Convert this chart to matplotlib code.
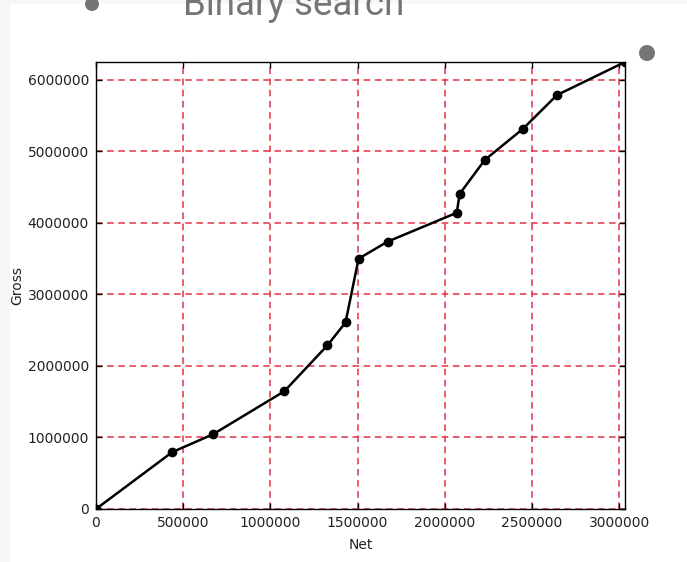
import matplotlib
matplotlib.use("Agg")
import matplotlib.pyplot as plt
from matplotlib.patches import Rectangle, Ellipse

net = [0, 437000, 672000, 1080000, 1327000, 1431000, 1506000, 1672000,
       2069000, 2086000, 2230000, 2448000, 2644000, 3034000]
gross = [0, 795000, 1046000, 1646000, 2287000, 2608000, 3500000, 3738000,
         4142000, 4407000, 4881000, 5314000, 5788000, 6250000]
xticks = [0, 500000, 1000000, 1500000, 2000000, 2500000, 3000000]
yticks = [0, 1000000, 2000000, 3000000, 4000000, 5000000, 6000000]
title_text = "Binary search"

W, H = 687, 562
fig = plt.figure(figsize=(W / 100, H / 100), dpi=100)
fig.patch.set_facecolor("white")

ax = fig.add_axes([96 / W, 1 - 509 / H, (625 - 96) / W, (509 - 62) / H])
ax.plot(net, gross, color="black", lw=1.8, marker="o", ms=6, zorder=3,
        clip_on=True)
ax.set_xlim(0, net[-1])
ax.set_ylim(0, gross[-1])
ax.set_xticks(xticks)
ax.set_yticks(yticks)
ax.set_xticklabels([str(v) for v in xticks])
ax.set_yticklabels([str(v) for v in yticks])
ax.grid(True, color="#e33344", lw=1.1, linestyle=(0, (4.3, 3.0)))
ax.tick_params(direction="in", top=True, right=True, length=4, width=1,
               labelsize=10, colors="black", labelcolor="#222222", pad=5)
for s in ax.spines.values():
    s.set_linewidth(1)
    s.set_color("black")
ax.set_xlabel("Net", fontsize=10, color="#222222", labelpad=6)
ax.set_ylabel("Gross", fontsize=10, color="#222222", labelpad=2.5)

# page decorations
strip_l = Rectangle((0, 0), 10 / W, 1, transform=fig.transFigure,
                    facecolor="#f7f7f7", edgecolor="none", zorder=10)
strip_t = Rectangle((0, 1 - 4 / H), 1, 4 / H, transform=fig.transFigure,
                    facecolor="#f7f7f7", edgecolor="none", zorder=10)
fig.patches.extend([strip_l, strip_t])
b1 = Ellipse((92 / W, 1 - 4 / H), 14 / W, 14 / H, transform=fig.transFigure,
             facecolor="#757575", edgecolor="none", zorder=11)
b2 = Ellipse((647 / W, 1 - 53 / H), 16 / W, 16 / H, transform=fig.transFigure,
             facecolor="#757575", edgecolor="none", zorder=11)
fig.patches.extend([b1, b2])
fig.text(183 / W, 1 - 15 / H, title_text, fontsize=26.5, family="Roboto",
         color="#757575", va="baseline", ha="left", zorder=12)

fig.savefig("out.png", dpi=100, facecolor=fig.get_facecolor())
